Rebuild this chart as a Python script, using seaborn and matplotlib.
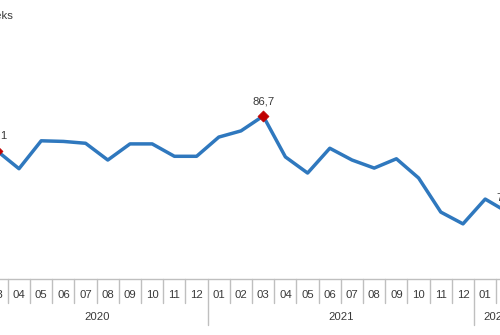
import matplotlib
matplotlib.use("Agg")
import matplotlib.pyplot as plt
import matplotlib.transforms as mtransforms
import numpy as np
import pandas as pd
import seaborn as sns

# Monthly index, March 2020 - February 2022
months = ["03", "04", "05", "06", "07", "08", "09", "10", "11", "12",
          "01", "02", "03", "04", "05", "06", "07", "08", "09", "10", "11", "12",
          "01", "02"]
years = ["2020"] * 10 + ["2021"] * 12 + ["2022"] * 2
values = [81.1, 78.2, 82.7, 82.6, 82.3, 79.6, 82.2, 82.2, 80.2, 80.2,
          83.3, 84.3, 86.7, 80.1, 77.5, 81.5, 79.6, 78.3, 79.8, 76.7, 71.2, 69.3,
          73.3, 71.2]

df = pd.DataFrame({"idx": np.arange(len(values)), "month": months,
                   "year": years, "value": values})

sns.set_theme(style="white")
plt.rcParams["font.family"] = ["Liberation Sans", "DejaVu Sans"]

W, H = 500, 335
fig = plt.figure(figsize=(W / 100, H / 100), dpi=100)
axis_px = 279
ax = fig.add_axes([0, (H - axis_px) / H, 1, axis_px / H])

line_color = "#2F78BE"
mark_color = "#C00000"
text_color = "#3A3A3A"
rule_color = "#BFBFBF"
fs = 8.2

sns.lineplot(data=df, x="idx", y="value", color=line_color, linewidth=2.5,
             ax=ax, clip_on=False)

# highlighted points: first, maximum, last
hi = [0, int(np.argmax(values)), len(values) - 1]
sns.scatterplot(x=df["idx"].iloc[hi], y=df["value"].iloc[hi], marker="D",
                s=32, color=mark_color, edgecolor=mark_color, zorder=5, ax=ax,
                clip_on=False)
for i in hi:
    ax.annotate(f"{values[i]:.1f}".replace(".", ","), (i, values[i]),
                xytext=(0, 15), textcoords="offset pixels", ha="center",
                va="center", fontsize=fs, color=text_color,
                annotation_clip=False)

# scale: month i centred at -3.2 + 22.2*i pixels
ax.set_xlim(3.2 / 22.2, (W + 3.2) / 22.2)
ax.set_ylim(86.7 - (axis_px - 116) / 6.2, 86.7 + 116 / 6.2)

for s in ["top", "right", "left"]:
    ax.spines[s].set_visible(False)
ax.spines["bottom"].set_color(rule_color)
ax.spines["bottom"].set_linewidth(1.0)
ax.set_xticks([])
ax.set_yticks([])
ax.set_xlabel("")
ax.set_ylabel("")

tr = ax.get_xaxis_transform()
month_tr = mtransforms.offset_copy(tr, fig=fig, y=-16, units="dots")
year_tr = mtransforms.offset_copy(tr, fig=fig, y=-38, units="dots")

for i, m in enumerate(months):
    ax.text(i, 0, m, transform=month_tr, ha="center", va="center",
            fontsize=fs, color=text_color, clip_on=False)

# separators between months, longer ones between years
for i in range(-1, len(months)):
    b = i + 0.5
    new_year = i + 1 < len(months) and i >= 0 and years[i] != years[i + 1]
    depth = 46 if (new_year or i == -1) else 24
    ax.plot([b, b], [0, -depth / axis_px], transform=tr, color=rule_color,
            linewidth=1.0, clip_on=False)

for y in dict.fromkeys(years):
    sel = df.index[df["year"] == y]
    ax.text((sel.min() + sel.max()) / 2, 0, y, transform=year_tr, ha="center",
            va="center", fontsize=fs, color=text_color, clip_on=False)

fig.text(13 / W, 1 - 16 / H, "Endeks", ha="right", va="center",
         fontsize=fs, color=text_color)

fig.savefig("out.png", dpi=100)
